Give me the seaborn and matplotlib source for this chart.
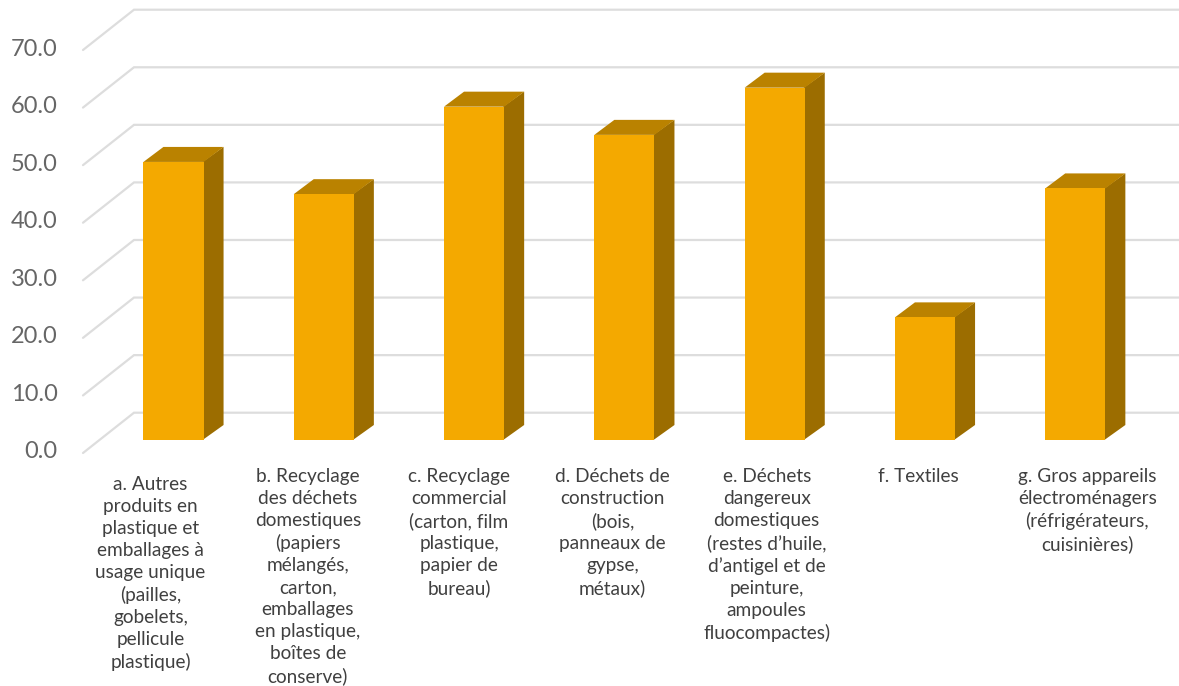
import matplotlib
matplotlib.use("Agg")
import matplotlib.pyplot as plt
import matplotlib.transforms as mtrans
from matplotlib.patches import Polygon
import pandas as pd
import seaborn as sns

categories = [
    "a. Autres\nproduits en\nplastique et\nemballages à\nusage unique\n(pailles,\ngobelets,\npellicule\nplastique)",
    "b. Recyclage\ndes déchets\ndomestiques\n(papiers\nmélangés,\ncarton,\nemballages\nen plastique,\nboîtes de\nconserve)",
    "c. Recyclage\ncommercial\n(carton, film\nplastique,\npapier de\nbureau)",
    "d. Déchets de\nconstruction\n(bois,\npanneaux de\ngypse,\nmétaux)",
    "e. Déchets\ndangereux\ndomestiques\n(restes d’huile,\nd’antigel et de\npeinture,\nampoules\nfluocompactes)",
    "f. Textiles",
    "g. Gros appareils\nélectroménagers\n(réfrigérateurs,\ncuisinières)",
]
values = [48.3, 42.7, 57.9, 53.0, 61.2, 21.3, 43.7]
y_ticks = [0, 10, 20, 30, 40, 50, 60, 70]

FRONT = "#F4A900"
SIDE = "#9C6D00"
TOP = "#BA8200"
GRID = "#DDDDDD"

W, H = 1179, 686
sns.set_theme(style="white")
plt.rcParams["font.family"] = ["Lato", "DejaVu Sans"]

fig = plt.figure(figsize=(W / 100, H / 100), dpi=100)
# axes box in pixels: value 0 at y=440, value 70 at y=37
ax = fig.add_axes([98.35 / W, (H - 440) / H, 1052.1 / W, 403 / H])

df = pd.DataFrame({"cat": categories, "val": values})
sns.barplot(data=df, x="cat", y="val", color=FRONT, saturation=1, width=0.4,
            linewidth=0, edgecolor="none", ax=ax, zorder=3)
ax.set_xlim(-0.5, 6.5)
ax.set_ylim(0, 70)
ax.set_xlabel("")
ax.set_ylabel("")

px_x = 7 / 1052.1  # x units per pixel
px_y = 70 / 403    # y units per pixel

# gridlines on the back wall and the left wall diagonal
for v in y_ticks:
    xs = [-0.5 + (83 - 98.35) * px_x, -0.5 + (134 - 98.35) * px_x, -0.5 + (1179 - 98.35) * px_x]
    ys = [v - 13 * px_y, v + 27.3 * px_y, v + 27.3 * px_y]
    ax.plot(xs, ys, color=GRID, lw=1.6, clip_on=False, zorder=1, solid_joinstyle="miter")

# depth faces of each bar, tucked slightly under the front face
dx, dy = 20 * px_x, 15 * px_y
for bar in list(ax.patches):
    x0, x1, h = bar.get_x(), bar.get_x() + bar.get_width(), bar.get_height()
    tuck = px_x
    ax.add_patch(Polygon([(x1 - tuck, 0), (x1 + dx, dy), (x1 + dx, h + dy), (x1 - tuck, h)],
                         facecolor=SIDE, edgecolor="none", zorder=2.5, clip_on=False))
    ax.add_patch(Polygon([(x0, h), (x0 + dx, h + dy), (x1 + dx, h + dy), (x1, h)],
                         facecolor=TOP, edgecolor="none", zorder=2.5, clip_on=False))

sns.despine(ax=ax, left=True, bottom=True)
ax.set_yticks(y_ticks)
ax.set_yticklabels([f"{v:.1f}" for v in y_ticks], color="#666666", fontsize=17)
ax.tick_params(axis="y", length=0, pad=0)
# tick labels sit on the front corner of the left wall
shift = mtrans.ScaledTranslation(-40.5 / 100, -10 / 100, fig.dpi_scale_trans)
for lab in ax.get_yticklabels():
    lab.set_transform(lab.get_transform() + shift)

# label offsets from the bar centres, in px
label_dx = [-23, -16, -15, -12, -8, -7, 12]
label_dy = [-8, 0, 0, 0, 0, 0, 0]
ax.tick_params(axis="x", length=0, pad=20, labelsize=13.7, labelcolor="#404040")
for i, lab in enumerate(ax.get_xticklabels()):
    lab.set_linespacing(1.355)
    lab.set_multialignment("center")
    off = mtrans.ScaledTranslation(label_dx[i] / 100, label_dy[i] / 100, fig.dpi_scale_trans)
    lab.set_transform(lab.get_transform() + off)

fig.savefig("out.png", dpi=100, facecolor="white")
